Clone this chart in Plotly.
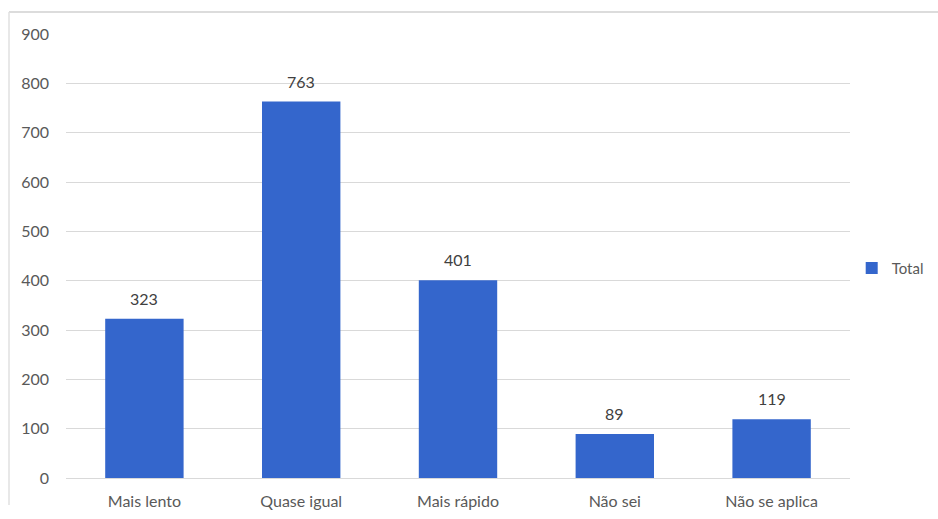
import plotly.graph_objects as go

categories = ["Mais lento", "Quase igual", "Mais rápido", "Não sei", "Não se aplica"]
values = [323, 763, 401, 89, 119]
series_name = "Total"
y_ticks = [0, 100, 200, 300, 400, 500, 600, 700, 800, 900]

FONT = "Lato, 'Open Sans', sans-serif"
TXT = "#595959"

fig = go.Figure()
fig.add_trace(go.Bar(
    x=categories, y=values, name=series_name,
    marker=dict(color="#3466cc", line=dict(width=0)),
))

for c, v in zip(categories, values):
    fig.add_annotation(x=c, y=v, text=str(v), showarrow=False, yanchor="bottom",
                       yshift=9, font=dict(family=FONT, size=16, color="#404040"))

fig.update_layout(
    width=938, height=519,
    margin=dict(l=66, r=88, t=34, b=41, autoexpand=False),
    paper_bgcolor="white", plot_bgcolor="white",
    bargap=0.5,
    font=dict(family=FONT, size=16, color=TXT),
    showlegend=True,
    legend=dict(xref="container", yref="container", x=0.908, y=0.483,
                xanchor="left", yanchor="middle",
                font=dict(family=FONT, size=15, color=TXT),
                itemwidth=30),
    xaxis=dict(showgrid=False, showline=False, ticks="", ticklabelstandoff=12,
               tickfont=dict(family=FONT, size=16, color=TXT)),
    yaxis=dict(range=[0, 900], tickvals=y_ticks, showgrid=True, gridcolor="#d9d9d9",
               gridwidth=1, zeroline=True, zerolinecolor="#d9d9d9", zerolinewidth=1,
               showline=False, ticks="", ticklabelstandoff=16,
               tickfont=dict(family=FONT, size=16, color=TXT)),
    shapes=[
        dict(type="line", xref="paper", yref="paper", x0=-0.0727, x1=1.13,
             y0=1.0495, y1=1.0495, line=dict(color="#d0d0d0", width=1.5)),
        dict(type="line", xref="paper", yref="paper", x0=-0.0727, x1=-0.0727,
             y0=1.0495, y1=-0.061, line=dict(color="#e0e0e0", width=1.5)),
    ],
)

fig.write_html("out.html")
